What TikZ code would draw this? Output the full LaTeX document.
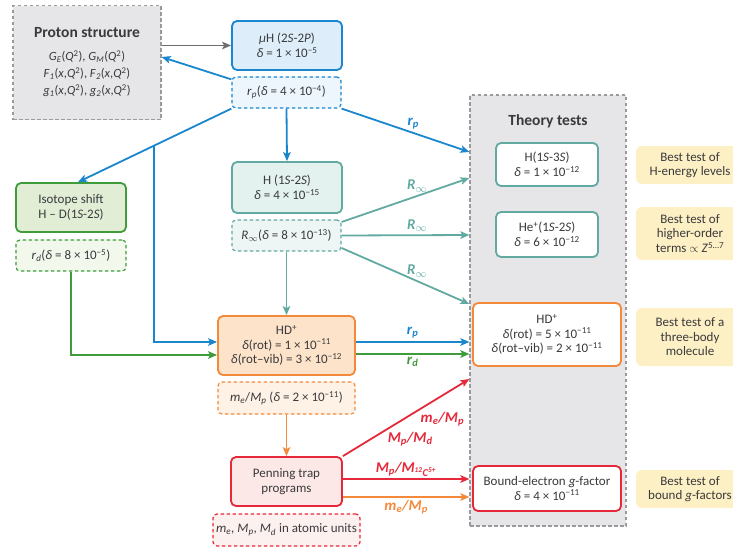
\documentclass[tikz,border=0pt]{standalone}
\usepackage{fontspec}
\setmainfont{Carlito}
\usetikzlibrary{arrows.meta,calc}
\definecolor{txt}{HTML}{3A3A3C}
\definecolor{blu}{HTML}{1A86CE}
\definecolor{blufill}{HTML}{DDEEFA}
\definecolor{blulite}{HTML}{EEF6FD}
\definecolor{tea}{HTML}{62A9A1}
\definecolor{teafill}{HTML}{E3F2EF}
\definecolor{tealite}{HTML}{EEF5F5}
\definecolor{grn}{HTML}{3E9C3B}
\definecolor{grnfill}{HTML}{E1EED5}
\definecolor{grnlite}{HTML}{F2F8EC}
\definecolor{org}{HTML}{F3893A}
\definecolor{orgfill}{HTML}{FDE3CA}
\definecolor{orglite}{HTML}{FEF2E6}
\definecolor{redd}{HTML}{E5293A}
\definecolor{redfill}{HTML}{FCE9E7}
\definecolor{redlite}{HTML}{FDF1F0}
\definecolor{gry}{HTML}{9A9A9C}
\definecolor{gryarr}{HTML}{6E6E70}
\definecolor{gryfill}{HTML}{E6E6E8}
\definecolor{yel}{HTML}{FDF0C4}
\newcommand{\dlt}{\textit{δ}}
\newcommand{\ten}[1]{10\textsuperscript{#1}}
\newcommand{\sub}[2]{\textit{#1}\textsubscript{\textit{#2}}}

\begin{document}
\begin{tikzpicture}[x=1pt,y=-1pt,
   font=\fontsize{13}{14.5}\selectfont,
   box/.style 2 args={draw=#1,fill=#2,line width=1.8pt,rounded corners=5pt,
      align=center,inner sep=0pt,text=txt},
   dbox/.style 2 args={draw=#1,fill=#2,line width=1.2pt,dash pattern=on 3.5pt off 2.5pt,
      rounded corners=4pt,align=center,inner sep=0pt,text=txt},
   note/.style={fill=yel,rounded corners=6pt,minimum width=108,align=center,
      inner sep=0pt,text=txt},
   arr/.style={draw=#1,line width=1.8pt,-{Stealth[length=9pt,width=7.5pt,inset=2pt]}},
   lab/.style={font=\fontsize{15}{16}\selectfont\bfseries\itshape,text=#1,inner sep=1pt}]
  \useasboundingbox (0,0) rectangle (733,546);

  % left column
  \node[dbox={gry}{gryfill},rounded corners=0pt,minimum width=148,minimum height=114,
        font=\fontsize{12.5}{15}\selectfont] (prot) at (87,62.5)
   {{\bfseries\fontsize{15.5}{17}\selectfont Proton structure}\\[8pt]
    \sub{G}{E}(\textit{Q}\textsuperscript{2}), \sub{G}{M}(\textit{Q}\textsuperscript{2})\\[2pt]
    \sub{F}{1}(\textit{x},\textit{Q}\textsuperscript{2}), \sub{F}{2}(\textit{x},\textit{Q}\textsuperscript{2})\\[2pt]
    \sub{g}{1}(\textit{x},\textit{Q}\textsuperscript{2}), \sub{g}{2}(\textit{x},\textit{Q}\textsuperscript{2})};
  \node[box={blu}{blufill},minimum width=110,minimum height=49] (muH) at (287,45.5)
   {\textit{μ}H (2\textit{S}-2\textit{P})\\ \dlt{} = 1 × \ten{−5}};
  \node[dbox={blu}{blulite},minimum width=109,minimum height=31] (rpbox) at (286.5,92.5)
   {\sub{r}{p}(\dlt{} = 4 × \ten{−4})};
  \node[box={tea}{teafill},minimum width=110,minimum height=51] (H12) at (287,187.5)
   {H (1\textit{S}-2\textit{S})\\ \dlt{} = 4 × \ten{−15}};
  \node[dbox={tea}{tealite},minimum width=109,minimum height=31] (Rinf) at (286.5,235.5)
   {\textit{R}\textsubscript{$\infty$}(\dlt{} = 8 × \ten{−13})};
  \node[box={grn}{grnfill},minimum width=110,minimum height=49] (iso) at (71,207.5)
   {Isotope shift\\ H – D(1\textit{S}-2\textit{S})};
  \node[dbox={grn}{grnlite},minimum width=110,minimum height=31] (rd) at (71,255.5)
   {\sub{r}{d}(\dlt{} = 8 × \ten{−5})};
  \node[box={org}{orgfill},minimum width=137,minimum height=59] (HDl) at (286.5,345.5)
   {HD\textsuperscript{+}\\ \dlt(rot) = 1 × \ten{−11}\\ \dlt(rot–vib) = 3 × \ten{−12}};
  \node[dbox={org}{orglite},minimum width=137,minimum height=32] (mep) at (286.5,398)
   {\sub{m}{e}/\sub{M}{p} (\dlt{} = 2 × \ten{−11})};
  \node[box={redd}{redfill},minimum width=111,minimum height=49] (pen) at (286.5,481.5)
   {Penning trap\\ programs};
  \node[dbox={redd}{redlite},minimum width=147,minimum height=32] (au) at (286.5,530)
   {\sub{m}{e}, \sub{M}{p}, \sub{M}{d} in atomic units};

  % theory tests
  \node[dbox={gry}{gryfill},rounded corners=0pt,minimum width=156,minimum height=431] (theory) at (548,310.5) {};
  \node[font=\fontsize{15.5}{17}\selectfont\bfseries,text=txt] (ttl) at (548,121) {Theory tests};
  \node[box={tea}{white},minimum width=102,minimum height=43] (H13) at (547,164.5)
   {H(1\textit{S}-3\textit{S})\\ \dlt{} = 1 × \ten{−12}};
  \node[box={tea}{white},minimum width=102,minimum height=45] (He) at (547,234.5)
   {He\textsuperscript{+}(1\textit{S}-2\textit{S})\\ \dlt{} = 6 × \ten{−12}};
  \node[box={org}{white},minimum width=148,minimum height=63] (HDr) at (547,334.5)
   {HD\textsuperscript{+}\\ \dlt(rot) = 5 × \ten{−11}\\ \dlt(rot–vib) = 2 × \ten{−11}};
  \node[box={redd}{white},minimum width=148,minimum height=45] (bnd) at (547,488.5)
   {Bound-electron \textit{g}-factor\\ \dlt{} = 4 × \ten{−11}};

  \node[note,minimum height=38] (n1) at (690,165) {Best test of\\H-energy levels};
  \node[note,minimum height=53] (n2) at (690,233.5) {Best test of\\higher-order\\terms $\propto$ \textit{Z}\textsuperscript{5…7}};
  \node[note,minimum height=58] (n3) at (690,337) {Best test of a\\three-body\\molecule};
  \node[note,minimum height=38] (n4) at (690,489) {Best test of\\bound \textit{g}-factors};

  % entry points on the theory box
  \foreach \n/\y in {A/152,B/178,C/235,D/304,E/342,F/354,G/379,H/479,I/497}
    \coordinate (t\n) at (theory.west |- 0,\y);

  % connectors
  \draw[arr=gryarr] (prot.east |- muH) -- (muH.west);
  \draw[arr=blu] ([yshift=-3]rpbox.north west) -- ([yshift=5.5]prot.east);
  \draw[arr=blu] (rpbox.south west) -- ([xshift=7]iso.north) coordinate[pos=0.506] (br);
  \draw[arr=blu] (br) |- ([yshift=3.5]HDl.west);
  \draw[arr=blu] (rpbox.south) -- (H12.north);
  \draw[arr=blu] (rpbox.south east) -- (tA) node[lab=blu,pos=.56,above=2pt] {r\textsubscript{p}};
  \foreach \dy/\e in {13.5/tB,0/tC,-12.5/tD}
    \draw[arr=tea] ([yshift=\dy]Rinf.east) -- (\e) node[lab=tea,pos=.59,above=2pt] {R\textsubscript{$\infty$}};
  \draw[arr=tea] (Rinf.south) -- (HDl.north);
  \draw[arr=grn] (rd.south) |- ([yshift=-9.5]HDl.west);
  \draw[arr=blu] ([yshift=3.5]HDl.east) -- (tE) node[lab=blu,midway,above=2pt] {r\textsubscript{p}};
  \draw[arr=grn] ([yshift=-8.5]HDl.east) -- (tF) node[lab=grn,midway,below=1pt] {r\textsubscript{d}};
  \draw[arr=org] (mep.south) -- (pen.north);
  \draw[arr=redd] (pen.north east) -- (tG)
     node[lab=redd,pos=.34,anchor=north west] {M\textsubscript{p}/M\textsubscript{d}}
     node[lab=redd,pos=.6,anchor=north west] {m\textsubscript{e}/M\textsubscript{p}};
  \draw[arr=redd] ([yshift=2.5]pen.east) -- (tH)
     node[lab=redd,midway,above=1pt] {M\textsubscript{p}/M\textsubscript{\textsuperscript{12}C\textsuperscript{5+}}};
  \draw[arr=org] ([yshift=-15.5]pen.east) -- (tI) node[lab=org,midway,below=1pt] {m\textsubscript{e}/M\textsubscript{p}};
\end{tikzpicture}
\end{document}
